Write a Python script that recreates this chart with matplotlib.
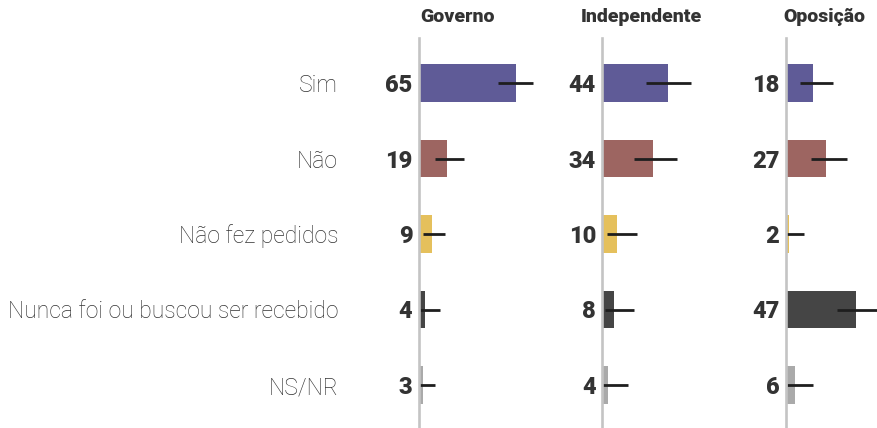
import matplotlib
matplotlib.use("Agg")
import matplotlib.pyplot as plt

categories = ["Sim", "Não", "Não fez pedidos", "Nunca foi ou buscou ser recebido", "NS/NR"]
groups = ["Governo", "Independente", "Oposição"]
values = {
    "Governo": [65, 19, 9, 4, 3],
    "Independente": [44, 34, 10, 8, 4],
    "Oposição": [18, 27, 2, 47, 6],
}
err_low = {
    "Governo": [53, 11, 3, 0, 0],
    "Independente": [29, 21, 3, 2, 0],
    "Oposição": [9.5, 17, 0, 34, 1],
}
err_high = {
    "Governo": [76, 30, 17.5, 14, 11],
    "Independente": [59, 50, 23, 21, 17],
    "Oposição": [31.5, 41, 12, 61, 18],
}
colors = ["#5f5b97", "#9d6561", "#e5c05c", "#454545", "#aaaaaa"]

W, H = 878, 428
fig = plt.figure(figsize=(W / 100, H / 100), dpi=100)

spine_px = [418.7, 602.3, 785.7]
px_per_unit = 1.5
ax_w_px = 150
top_px, bot_px = 38, 428
row_top, row_step = 83, 75.5

axes = []
for gi, g in enumerate(groups):
    left = spine_px[gi] / W
    ax = fig.add_axes([left, 1 - bot_px / H, ax_w_px / W, (bot_px - top_px) / H])
    ax.set_xlim(0, ax_w_px / px_per_unit)
    y0 = -(row_top - top_px) / row_step
    y1 = 4 + (bot_px - (row_top + 4 * row_step)) / row_step
    ax.set_ylim(y1, y0)
    ypos = list(range(len(categories)))
    ax.barh(ypos, values[g], height=0.5, color=colors, zorder=2)
    for i, v in enumerate(values[g]):
        ax.plot([err_low[g][i], err_high[g][i]], [i, i], color="#1e1e1e",
                lw=2.0, solid_capstyle="butt", zorder=3, clip_on=False)
        ax.annotate(str(v), xy=(0, i), xytext=(-4.5, 0), textcoords="offset points",
                    ha="right", va="center_baseline", fontsize=17,
                    fontweight="heavy", color="#333333", family="Roboto")
    for s in ["top", "right", "bottom"]:
        ax.spines[s].set_visible(False)
    ax.spines["left"].set_color("#c4c4c4")
    ax.spines["left"].set_linewidth(1.9)
    ax.spines["left"].set_zorder(4)
    ax.set_xticks([])
    ax.set_yticks([])
    ax.patch.set_alpha(0)
    ax.annotate(g, xy=(0, 1), xycoords="axes fraction", xytext=(28, 15),
                textcoords="offset points", ha="center", va="center",
                fontsize=14, fontweight="heavy", color="#333333", family="Roboto")
    axes.append(ax)

ax0 = axes[0]
ax0.set_yticks(range(len(categories)))
ax0.set_yticklabels(categories, fontsize=16.5, fontweight="light",
                    color="#333333", family="Roboto")
ax0.tick_params(axis="y", length=0, pad=58)

fig.savefig("out.png", dpi=100)
